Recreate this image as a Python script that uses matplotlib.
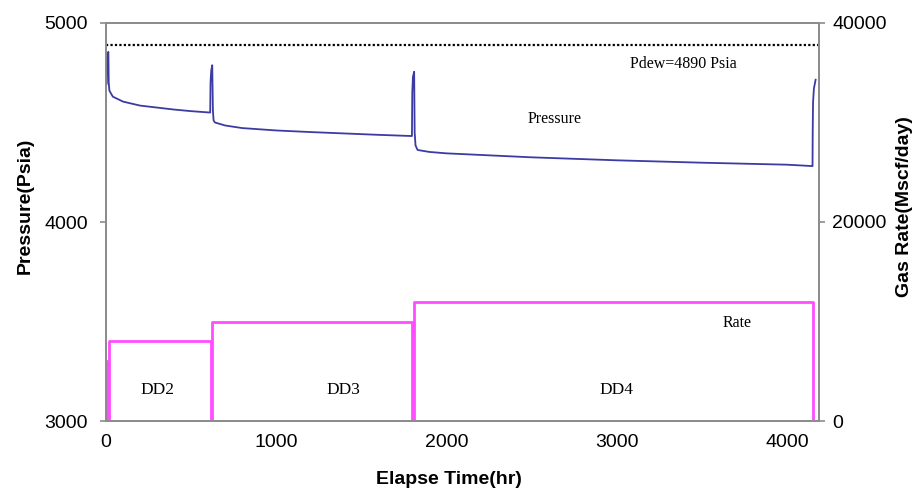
import matplotlib.pyplot as plt

# pressure history (hr, psia)
time_p = [0, 2, 4, 6, 10, 14,
          16, 20, 40, 100, 200, 300, 400, 500, 612,
          614, 618, 624,
          628, 632, 640, 700, 800, 1000, 1200, 1400, 1600, 1797,
          1799, 1803, 1810,
          1813, 1818, 1830, 1900, 2000, 2500, 3000, 3500, 4000, 4150,
          4151, 4153, 4158, 4168]
pressure = [4700, 4690, 4700, 4820, 4850, 4855,
            4700, 4660, 4630, 4605, 4585, 4575, 4565, 4557, 4550,
            4700, 4760, 4788,
            4560, 4510, 4500, 4485, 4472, 4460, 4452, 4445, 4438, 4432,
            4650, 4730, 4755,
            4450, 4385, 4362, 4352, 4345, 4325, 4310, 4298, 4288, 4281,
            4450, 4600, 4670, 4715]

# gas rate steps (hr, Mscf/day)
time_q = [0, 0, 4, 4, 20, 20, 615, 615, 621, 621, 1797, 1797, 1810, 1810, 4153, 4153]
rate = [0, 6000, 6000, 0, 0, 8000, 8000, 0, 0, 10000, 10000, 0, 0, 12000, 12000, 0]

p_dew = 4890
periods = ["DD2", "DD3", "DD4"]
period_t = [305, 1392, 2996]

plt.rcParams['font.family'] = ['Liberation Sans', 'DejaVu Sans']
serif = ['Liberation Serif', 'DejaVu Serif']
spine_c = "#8c8c8c"

fig = plt.figure(figsize=(9.18, 4.9), dpi=100)
ax = fig.add_axes([106 / 918, 1 - 421 / 490, 713 / 918, 398 / 490])
ax2 = ax.twinx()

ax.plot(time_p, pressure, color="#3b3ba3", linewidth=1.3, zorder=3)
ax.axhline(p_dew, color="black", linestyle=(0, (1, 1)), linewidth=1.6)
ax2.plot(time_q, rate, color="#ff4dff", linewidth=2)

ax.set_xlim(0, 4188)
ax.set_ylim(3000, 5000)
ax2.set_ylim(0, 40000)
ax.set_xticks([0, 1000, 2000, 3000, 4000])
ax.set_yticks([3000, 4000, 5000])
ax2.set_yticks([0, 20000, 40000])

ax.text(3389, 4794, "Pdew=4890 Psia", family=serif, fontsize=11.5, ha="center", va="center")
ax.text(2637, 4518, "Pressure", family=serif, fontsize=11.5, ha="center", va="center")
ax.text(3706, 3492, "Rate", family=serif, fontsize=11.5, ha="center", va="center")
for name, t in zip(periods, period_t):
    ax.text(t, 3156, name, family=serif, fontsize=12.5, ha="center", va="center")

for a in (ax, ax2):
    for s in a.spines.values():
        s.set_color(spine_c)
        s.set_linewidth(1.3)
ax.spines["bottom"].set_zorder(5)

ax.tick_params(axis="x", length=0, pad=9.5, labelsize=14)
ax.tick_params(axis="y", length=4.3, width=1.2, color=spine_c, pad=8.6, labelsize=14)
ax2.tick_params(axis="y", length=4, width=1.2, color=spine_c, pad=5.5, labelsize=14)

ax.set_xlabel("Elapse Time(hr)", fontsize=14, fontweight="bold")
ax.xaxis.set_label_coords(0.481, -0.125)
ax.set_ylabel("Pressure(Psia)", fontsize=14, fontweight="bold")
ax.yaxis.set_label_coords(-0.102, 0.54)
ax2.set_ylabel("Gas Rate(Mscf/day)", fontsize=14, fontweight="bold")
ax2.yaxis.set_label_coords(1.108, 0.54)

plt.savefig("out.png", dpi=100)
plt.close()
